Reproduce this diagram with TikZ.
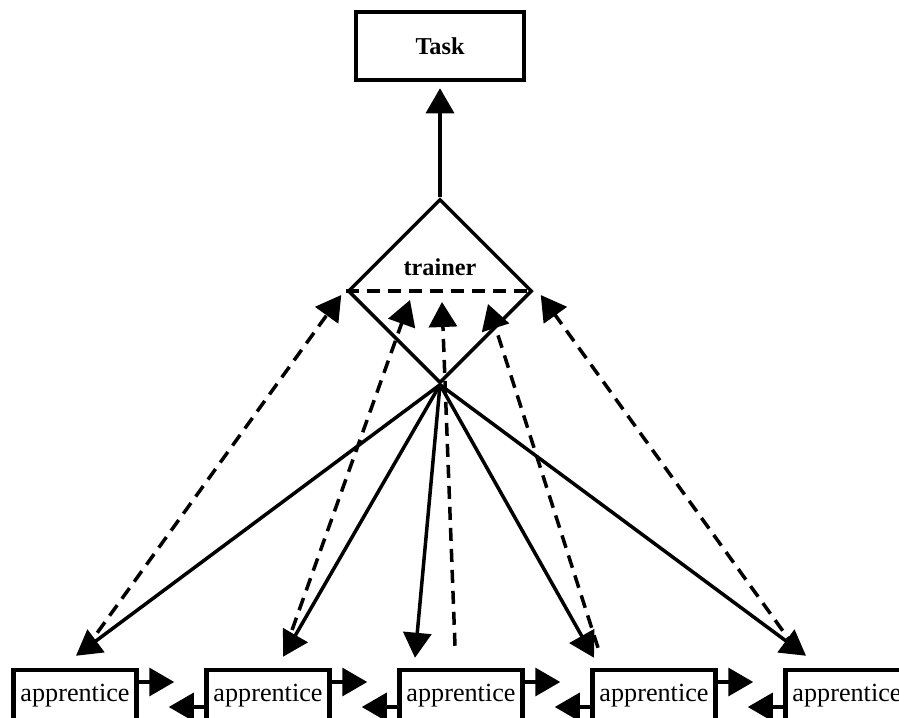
\documentclass[tikz,border=0pt]{standalone}
\usepackage{fontspec}
\setmainfont{Liberation Serif}
\usetikzlibrary{shapes.geometric, arrows.meta}

\begin{document}
\begin{tikzpicture}[
    rbox/.style={rectangle, draw=black, line width=0.09cm, inner sep=0pt},
    taskbox/.style={rbox, minimum width=3.36cm, minimum height=1.36cm,
      font=\fontsize{13.8}{16}\selectfont\bfseries},
    appbox/.style={rbox, minimum width=2.46cm, minimum height=1.04cm,
      font=\fontsize{14.9}{17}\selectfont},
    trainerbox/.style={diamond, draw=black, line width=0.07cm, inner sep=0pt,
      minimum width=3.68cm, minimum height=3.68cm},
    lbl/.style={font=\fontsize{13.8}{16}\selectfont\bfseries},
    arr/.style={-{Triangle[length=0.5cm, width=0.56cm]}, line width=0.07cm},
    dashline/.style={line width=0.07cm, dash pattern=on 0.26cm off 0.16cm}
  ]
    \useasboundingbox (0, 0) rectangle (17.98, -14.34); % 固定画布大小

    % 1. 顶部任务框与菱形(trainer)
    \node [taskbox] (task) at (8.8, -0.92) {Task};
    \node [trainerbox] (tr) at (8.8, -5.82) {}; % 菱形,内容为空
    \node [lbl] at (8.8, -5.34) {trainer}; % 菱形上半部分的标注
    \draw [dashline] (tr.west) -- (tr.east); % 菱形中间的虚线
    \draw [arr, shorten >=0.12cm] (tr.north) -- (task.south);

    % 2. 底部五个 apprentice 框(下边框超出画布)
    \node [appbox] (a1) at (1.50, -13.92) {apprentice};
    \node [appbox] (a2) at (5.36, -13.92) {apprentice};
    \node [appbox] (a3) at (9.22, -13.92) {apprentice};
    \node [appbox] (a4) at (13.08, -13.92) {apprentice};
    \node [appbox] (a5) at (16.94, -13.92) {apprentice};

    % 3. 框与框之间的短箭头(上方向右,下方向左)
    \draw [arr, shorten >=0.6cm] ([yshift=0.28cm]a1.east) -- ([yshift=0.28cm]a2.west);
    \draw [arr, shorten >=0.6cm] ([yshift=-0.22cm]a2.west) -- ([yshift=-0.22cm]a1.east);
    \draw [arr, shorten >=0.6cm] ([yshift=0.28cm]a2.east) -- ([yshift=0.28cm]a3.west);
    \draw [arr, shorten >=0.6cm] ([yshift=-0.22cm]a3.west) -- ([yshift=-0.22cm]a2.east);
    \draw [arr, shorten >=0.6cm] ([yshift=0.28cm]a3.east) -- ([yshift=0.28cm]a4.west);
    \draw [arr, shorten >=0.6cm] ([yshift=-0.22cm]a4.west) -- ([yshift=-0.22cm]a3.east);
    \draw [arr, shorten >=0.6cm] ([yshift=0.28cm]a4.east) -- ([yshift=0.28cm]a5.west);
    \draw [arr, shorten >=0.6cm] ([yshift=-0.22cm]a5.west) -- ([yshift=-0.22cm]a4.east);

    % 4. 菱形下顶点到各框的实线箭头
    \draw [arr] (tr.south) -- ([xshift=0.02cm, yshift=0.24cm]a1.north);
    \draw [arr] (tr.south) -- ([xshift=0.30cm, yshift=0.22cm]a2.north);
    \draw [arr] (tr.south) -- ([xshift=-0.92cm, yshift=0.20cm]a3.north);
    \draw [arr] (tr.south) -- ([xshift=-1.20cm, yshift=0.20cm]a4.north);
    \draw [arr] (tr.south) -- ([xshift=-0.82cm, yshift=0.24cm]a5.north);

    % 5. 各框回到菱形的虚线箭头
    \draw [arr, dashline] ([xshift=0.20cm, yshift=0.36cm]a1.north) -- ([xshift=-0.10cm, yshift=-0.08cm]tr.west);
    \draw [arr, dashline] ([xshift=0.34cm, yshift=0.36cm]a2.north) -- ([xshift=-0.60cm, yshift=-0.18cm]tr.center);
    \draw [arr, dashline] ([xshift=-0.12cm, yshift=0.44cm]a3.north) -- ([xshift=0.04cm, yshift=-0.22cm]tr.center);
    \draw [arr, dashline] ([xshift=-1.12cm, yshift=0.40cm]a4.north) -- ([xshift=0.96cm, yshift=-0.26cm]tr.center);
    \draw [arr, dashline] ([xshift=-1.04cm, yshift=0.40cm]a5.north) -- ([xshift=0.14cm, yshift=-0.08cm]tr.east);
\end{tikzpicture}
\end{document}
